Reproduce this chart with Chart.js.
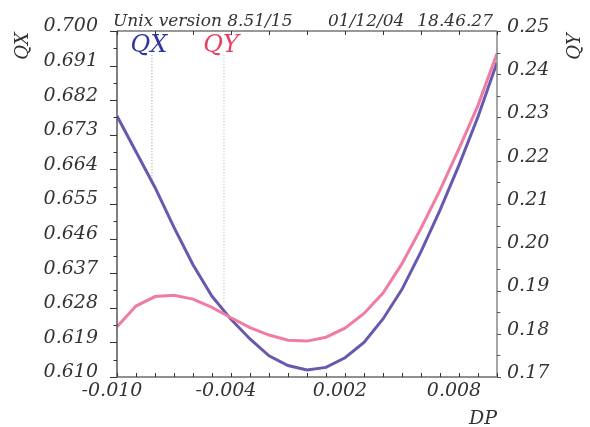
<!DOCTYPE html>
<html><head><meta charset="utf-8">
<script src="https://cdn.jsdelivr.net/npm/chart.js@4/dist/chart.umd.min.js"></script>
<style>html,body{margin:0;padding:0;background:#fff}#wrap{width:590px;height:427px;position:relative}</style>
</head><body><div id="wrap"><canvas id="c" width="590" height="427"></canvas></div>
<script>
// ---- data ----
const dp = [-0.010,-0.009,-0.008,-0.007,-0.006,-0.005,-0.004,-0.003,-0.002,-0.001,0.000,0.001,0.002,0.003,0.004,0.005,0.006,0.007,0.008,0.009,0.010];
const qx = [0.6779,0.6686,0.6593,0.6489,0.6392,0.6310,0.6250,0.6199,0.6155,0.6130,0.6118,0.6125,0.6150,0.6190,0.6251,0.6328,0.6426,0.6534,0.6651,0.6777,0.6918];
const qy = [0.1816,0.1864,0.1886,0.1889,0.1880,0.1861,0.1837,0.1814,0.1797,0.1785,0.1783,0.1792,0.1813,0.1847,0.1894,0.1962,0.2044,0.2132,0.2228,0.2328,0.2448];
const qxTicks = [0.610,0.619,0.628,0.637,0.646,0.655,0.664,0.673,0.682,0.691,0.700];
const qyTicks = [0.17,0.18,0.19,0.20,0.21,0.22,0.23,0.24,0.25];
const dpTicks = [-0.010,-0.004,0.002,0.008];
const titleParts = ['Unix version 8.51/15','01/12/04','18.46.27'];
const seriesNames = ['QX','QY'];
const leaderX = [-0.00816,-0.00437];
const leaderTop = [0.6937,0.6937];
const leaderBottom = [0.6612,0.6292];

const FONT = "'DejaVu Serif', serif";
const PURPLE = '#6858b0', PINK = '#f07ca2';

const pts = (ys) => dp.map((x,i)=>({x, y: ys[i]}));
const leader = (i) => [{x: leaderX[i], y: leaderTop[i]}, {x: leaderX[i], y: leaderBottom[i]}];

const deco = {
  id: 'deco',
  afterDraw(chart) {
    const ctx = chart.ctx, a = chart.chartArea;
    const sx = chart.scales.x, sy = chart.scales.y, sy2 = chart.scales.y2;
    ctx.save();
    ctx.lineCap = 'butt';
    // axis lines
    const line = (x1,y1,x2,y2,c,w) => { ctx.strokeStyle=c; ctx.lineWidth=w; ctx.beginPath(); ctx.moveTo(x1,y1); ctx.lineTo(x2,y2); ctx.stroke(); };
    line(a.left, a.top, a.right, a.top, '#333', 1.2);
    line(a.left, a.bottom, a.right, a.bottom, '#222', 1.2);
    line(a.left, a.top, a.left, a.bottom, '#555', 1.5);
    line(a.right, a.top, a.right, a.bottom, '#888', 1.5);
    // left ticks (outward)
    for (let i = 0; i < qxTicks.length; i++) {
      const y = Math.round(sy.getPixelForValue(qxTicks[i])) + 0.5;
      line(a.left - 7, y, a.left, y, '#333', 1);
      if (i < qxTicks.length - 1) {
        const ym = Math.round(sy.getPixelForValue((qxTicks[i]+qxTicks[i+1])/2)) + 0.5;
        line(a.left - 3.5, ym, a.left, ym, '#333', 1);
      }
    }
    // right ticks (outward)
    for (let i = 0; i < qyTicks.length; i++) {
      const y = Math.round(sy2.getPixelForValue(qyTicks[i])) + 0.5;
      line(a.right, y, a.right + 4, y, '#555', 1);
      if (i < qyTicks.length - 1) {
        const ym = Math.round(sy2.getPixelForValue((qyTicks[i]+qyTicks[i+1])/2)) + 0.5;
        line(a.right, ym, a.right + 3.3, ym, '#555', 1);
      }
    }
    // bottom ticks (inward, every 0.001) and top ticks (inward, every 0.002)
    for (let k = 0; k <= 20; k++) {
      const v = sx.min + k * (sx.max - sx.min) / 20;
      const x = Math.round(sx.getPixelForValue(v)) + 0.5;
      line(x, a.bottom, x, a.bottom - 4, '#333', 1);
      if (k % 2 === 0) line(x, a.top, x, a.top + 4, '#333', 1);
    }
    // texts
    ctx.fillStyle = '#333';
    ctx.font = `italic 17px ${FONT}`;
    ctx.textBaseline = 'alphabetic';
    ctx.textAlign = 'left';
    ctx.fillText(titleParts[0], 113, 26);
    ctx.fillText(titleParts[1], 328, 26);
    ctx.textAlign = 'right';
    ctx.fillText(titleParts[2], 493, 26);
    // axis titles
    ctx.font = `italic 18px ${FONT}`;
    ctx.textAlign = 'center';
    ctx.textBaseline = 'middle';
    ctx.save(); ctx.translate(23.5, 46); ctx.rotate(-Math.PI/2); ctx.fillText(seriesNames[0], 0, 0); ctx.restore();
    ctx.save(); ctx.translate(575.5, 46.5); ctx.rotate(-Math.PI/2); ctx.fillText(seriesNames[1], 0, 0); ctx.restore();
    ctx.font = `italic 19px ${FONT}`;
    ctx.textAlign = 'right';
    ctx.textBaseline = 'alphabetic';
    ctx.fillText('DP', 497, 424);
    // series labels
    ctx.font = `italic 24px ${FONT}`;
    ctx.textAlign = 'center';
    ctx.fillStyle = '#3036a0';
    ctx.fillText(seriesNames[0], sx.getPixelForValue(leaderX[0]) - 3, 52);
    ctx.fillStyle = '#e34264';
    ctx.fillText(seriesNames[1], sx.getPixelForValue(leaderX[1]) - 3, 52);
    ctx.restore();
  }
};

const tickFont = {family: FONT, size: 19, style: 'italic'};

new Chart(document.getElementById('c'), {
  type: 'line',
  data: {
    datasets: [
      {label: 'QX leader', data: leader(0), yAxisID: 'y', borderColor: '#888', borderWidth: 1, borderDash: [1,2], pointRadius: 0},
      {label: 'QY leader', data: leader(1), yAxisID: 'y', borderColor: '#aaa', borderWidth: 1, borderDash: [1,2], pointRadius: 0},
      {label: 'QY', data: pts(qy), yAxisID: 'y2', borderColor: PINK, borderWidth: 3, pointRadius: 0, tension: 0},
      {label: 'QX', data: pts(qx), yAxisID: 'y', borderColor: PURPLE, borderWidth: 3, pointRadius: 0, tension: 0}
    ]
  },
  options: {
    responsive: false, animation: false, devicePixelRatio: 1,
    layout: {padding: {top: 31, left: 0, right: 0, bottom: 0}},
    plugins: {legend: {display: false}, tooltip: {enabled: false}},
    scales: {
      x: {
        type: 'linear', position: 'bottom', min: -0.010, max: 0.010,
        afterFit: s => { s.height = 50; },
        afterBuildTicks: s => { s.ticks = dpTicks.map(v => ({value: v})); },
        grid: {display: false, drawTicks: false}, border: {display: false},
        ticks: {font: tickFont, color: '#333', padding: 3, labelOffset: -5, maxRotation: 0, autoSkip: false,
                callback: v => v.toFixed(3)}
      },
      y: {
        position: 'left', min: 0.610, max: 0.700,
        afterFit: s => { s.width = 117; },
        afterBuildTicks: s => { s.ticks = qxTicks.map(v => ({value: v})); },
        grid: {display: false, drawTicks: false}, border: {display: false},
        ticks: {font: tickFont, color: '#333', padding: 19, labelOffset: -4.5, autoSkip: false,
                callback: v => v.toFixed(3)}
      },
      y2: {
        position: 'right', min: 0.17, max: 0.25,
        afterFit: s => { s.width = 93; },
        afterBuildTicks: s => { s.ticks = qyTicks.map(v => ({value: v})); },
        grid: {display: false, drawTicks: false}, border: {display: false},
        ticks: {font: tickFont, color: '#333', padding: 10, labelOffset: -4, autoSkip: false,
                callback: v => v.toFixed(2)}
      }
    }
  },
  plugins: [deco]
});
</script>
</body></html>
